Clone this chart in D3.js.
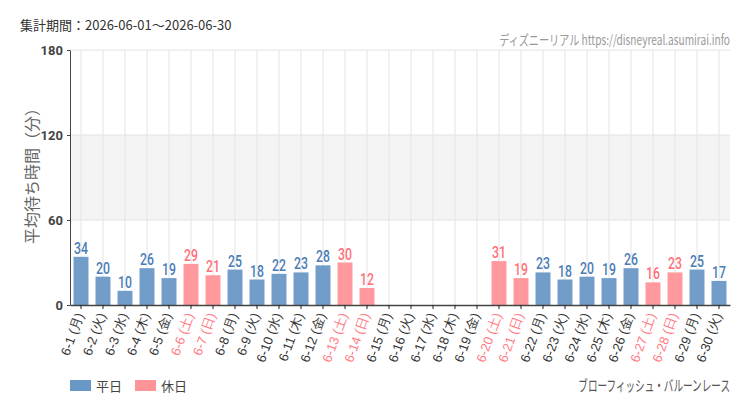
<!DOCTYPE html>
<html><head><meta charset="utf-8">
<script src="https://cdn.jsdelivr.net/npm/d3@7"></script>
<style>
body{margin:0;background:#fff;}
svg{display:block;font-family:"Noto Sans CJK JP","Noto Sans",sans-serif;}
</style>
</head><body>
<svg id="c" width="750" height="410"></svg>
<script>
const dates = ["6-1","6-2","6-3","6-4","6-5","6-6","6-7","6-8","6-9","6-10","6-11","6-12","6-13","6-14","6-15","6-16","6-17","6-18","6-19","6-20","6-21","6-22","6-23","6-24","6-25","6-26","6-27","6-28","6-29","6-30"];
const weekdays = ["月","火","水","木","金","土","日","月","火","水","木","金","土","日","月","火","水","木","金","土","日","月","火","水","木","金","土","日","月","火"];
const holiday = [0,0,0,0,0,1,1,0,0,0,0,0,1,1,0,0,0,0,0,1,1,0,0,0,0,0,1,1,0,0];
const waits = [34,20,10,26,19,29,21,25,18,22,23,28,30,12,null,null,null,null,null,31,19,23,18,20,19,26,16,23,25,17];
const yTicks = [0,60,120,180];
const title = "集計期間：2026-06-01～2026-06-30";
const credit = "ディズニーリアル https://disneyreal.asumirai.info";
const attraction = "ブローフィッシュ・バルーンレース";
const legendItems = ["平日","休日"];

const svg = d3.select("#c");
const L = 70, R = 730, T = 50, B = 305;
const labels = dates.map((d,i)=>d+" ("+weekdays[i]+")");
const x = d3.scaleBand().domain(labels).range([L,R]).paddingInner(0.32).paddingOuter(0.16);
const y = d3.scaleLinear().domain([0,180]).range([B,T]);
const blue="#6a98c6", red="#ff9498", blueT="#4a7db6", redT="#ff6f78";

svg.append("rect").attr("x",L).attr("width",R-L).attr("y",y(120)).attr("height",y(60)-y(120)).attr("fill","#f4f4f4");
svg.append("g").selectAll("line").data(yTicks.slice(1)).join("line")
  .attr("x1",L).attr("x2",R).attr("y1",d=>y(d)).attr("y2",d=>y(d)).attr("stroke","#e4e4e4");
svg.append("g").selectAll("line").data(labels).join("line")
  .attr("x1",d=>x(d)+x.bandwidth()/2).attr("x2",d=>x(d)+x.bandwidth()/2)
  .attr("y1",T).attr("y2",B).attr("stroke","#e4e4e4");

const data = labels.map((l,i)=>({l,v:waits[i],h:holiday[i]}));
svg.append("g").selectAll("rect").data(data.filter(d=>d.v!=null)).join("rect")
  .attr("x",d=>x(d.l)).attr("width",x.bandwidth())
  .attr("y",d=>y(d.v)).attr("height",d=>B-y(d.v))
  .attr("fill",d=>d.h?red:blue).attr("fill-opacity",0.95);
svg.append("g").selectAll("text").data(data.filter(d=>d.v!=null)).join("text")
  .attr("transform",d=>`translate(${x(d.l)+x.bandwidth()/2},${y(d.v)-3}) scale(0.72,1)`)
  .attr("text-anchor","middle").attr("font-size",17).attr("font-weight",500)
  .attr("font-family","Roboto,sans-serif")
  .attr("fill",d=>d.h?redT:blueT).text(d=>d.v);

const ya = svg.append("g").attr("transform",`translate(${L},0)`).call(d3.axisLeft(y).tickValues(yTicks).tickSize(3).tickSizeOuter(0));
ya.select(".domain").attr("stroke","#444");
ya.selectAll(".tick line").attr("stroke","#444");
ya.selectAll("text").attr("font-size",13).attr("font-weight","bold").attr("fill","#444")
  .attr("font-family","Roboto,'Noto Sans',sans-serif").attr("dx",-1);

const xa = svg.append("g").attr("transform",`translate(0,${B})`).call(d3.axisBottom(x).tickSize(4).tickSizeOuter(0));
xa.select(".domain").attr("stroke","#444").attr("stroke-width",1.5);
xa.selectAll(".tick line").attr("stroke","#222");
xa.selectAll(".tick text")
  .attr("font-size",13).attr("fill",(d,i)=>holiday[i]?"#ff7a82":"#333")
  .attr("text-anchor","end").attr("dy",0).attr("y",0)
  .attr("transform","translate(3,10) rotate(-70)");

svg.append("text").attr("transform","translate(38,172) rotate(-90)")
  .attr("text-anchor","middle").attr("font-size",16).attr("fill","#666").text("平均待ち時間（分）");

svg.append("text").attr("x",20).attr("y",30).attr("font-size",13).attr("fill","#333").text(title);
svg.append("text").attr("transform","translate(730,45) scale(0.75,1)").attr("text-anchor","end")
  .attr("font-size",13.5).attr("fill","#999").text(credit);

const lg = svg.append("g").selectAll("g").data(legendItems).join("g")
  .attr("transform",(d,i)=>`translate(${70+i*65},380)`);
lg.append("rect").attr("width",21).attr("height",11).attr("fill",(d,i)=>i?red:blue);
lg.append("text").attr("x",26).attr("y",11).attr("font-size",13).attr("fill","#444").text(d=>d);
svg.append("text").attr("transform","translate(730,391) scale(0.64,1)").attr("text-anchor","end")
  .attr("font-size",15).attr("fill","#555").text(attraction);
</script>
</body></html>
